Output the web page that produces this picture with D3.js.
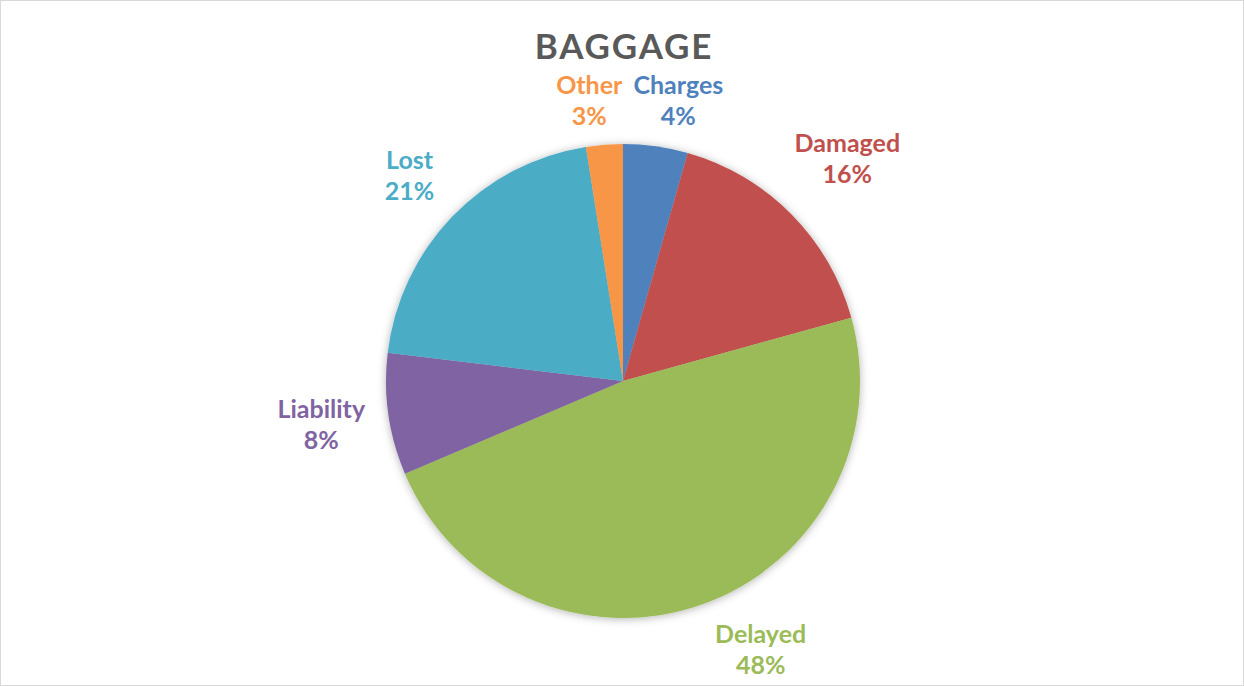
<!DOCTYPE html>
<html>
<head>
<meta charset="utf-8">
<script src="https://cdn.jsdelivr.net/npm/d3@7"></script>
<style>
  html, body { margin: 0; padding: 0; background: #fff; }
  svg { display: block; }
</style>
</head>
<body>
<svg id="chart" width="1244" height="686"></svg>
<script>
const title = "BAGGAGE";
const categories = ["Charges", "Damaged", "Delayed", "Liability", "Lost", "Other"];
const values = [4.4, 16.3, 47.9, 8.3, 20.6, 2.5];
const colors = ["#4F81BD", "#C0504D", "#9BBB59", "#8064A2", "#4BACC6", "#F79646"];

const W = 1244, H = 686;
const cx = 623, cy = 381, r = 237;
const font = "Lato, 'Open Sans', sans-serif";

const svg = d3.select("#chart");

// chart border
svg.append("rect")
  .attr("x", 0.5).attr("y", 0.5)
  .attr("width", W - 1).attr("height", H - 1)
  .attr("fill", "#fff").attr("stroke", "#D9D9D9").attr("stroke-width", 1);

const defs = svg.append("defs");
const f = defs.append("filter").attr("id", "shadow")
  .attr("x", "-20%").attr("y", "-20%").attr("width", "140%").attr("height", "140%");
f.append("feDropShadow").attr("dx", 0).attr("dy", 1).attr("stdDeviation", 4)
  .attr("flood-color", "#000").attr("flood-opacity", 0.3);

// title
svg.append("text")
  .attr("x", cx + 1).attr("y", 59)
  .attr("text-anchor", "middle")
  .attr("font-family", font).attr("font-weight", 700).attr("font-size", 35)
  .attr("letter-spacing", 1.8)
  .attr("fill", "#595959")
  .text(title);

const data = categories.map((c, i) => ({ name: c, value: values[i], color: colors[i] }));
const total = d3.sum(values);

const pie = d3.pie().value(d => d.value).sort(null);
const arcs = pie(data);
const arc = d3.arc().innerRadius(0).outerRadius(r);

const g = svg.append("g").attr("transform", `translate(${cx},${cy})`);
g.append("g").attr("filter", "url(#shadow)")
  .selectAll("path").data(arcs).join("path")
  .attr("d", arc)
  .attr("fill", d => d.data.color);

// labels
const fontSize = 25, lineH = 31, R0 = 257;
const lg = svg.append("g");
const labels = arcs.map(a => {
  const t = lg.append("text")
    .attr("font-family", font).attr("font-weight", 700).attr("font-size", fontSize)
    .attr("fill", a.data.color).attr("text-anchor", "middle");
  const t1 = t.append("tspan").text(a.data.name);
  const t2 = t.append("tspan").text(Math.round(a.data.value / total * 100) + "%");
  const w = Math.max(t1.node().getComputedTextLength(), t2.node().getComputedTextLength());
  return { a, t, t1, t2, hw: w / 2, hh: lineH };
});

const minY = 100 - cy, maxY = 649 - cy;
labels.forEach(L => {
  const ang = (L.a.startAngle + L.a.endAngle) / 2;
  const sx = Math.sin(ang), sy = -Math.cos(ang);
  const dist = R0 + L.hw * Math.abs(sx) + L.hh * Math.abs(sy);
  let x = dist * sx, y = dist * sy;
  if (y < minY) y = minY;
  if (y > maxY) {
    y = maxY;
    x = (Math.sign(sx) || 1) * Math.sqrt(Math.max(dist * dist - y * y, 0));
  }
  L.x = x; L.y = y;
});

// resolve horizontal overlap between labels on the same row
const minGap = 11;
for (let iter = 0; iter < 20; iter++) {
  for (let i = 0; i < labels.length; i++) {
    for (let j = 0; j < labels.length; j++) {
      if (i === j) continue;
      const A = labels[i], B = labels[j];
      if (Math.abs(A.y - B.y) < A.hh + B.hh - 4 && A.x < B.x) {
        const overlap = (A.x + A.hw + minGap) - (B.x - B.hw);
        if (overlap > 0) {
          const s = A.hw + B.hw;
          A.x -= overlap * A.hw / s;
          B.x += overlap * B.hw / s;
        }
      }
    }
  }
}

labels.forEach(L => {
  const X = cx + L.x, Y = cy + L.y;
  L.t1.attr("x", X).attr("y", Y - 6);
  L.t2.attr("x", X).attr("y", Y - 6 + lineH);
});
</script>
</body>
</html>
